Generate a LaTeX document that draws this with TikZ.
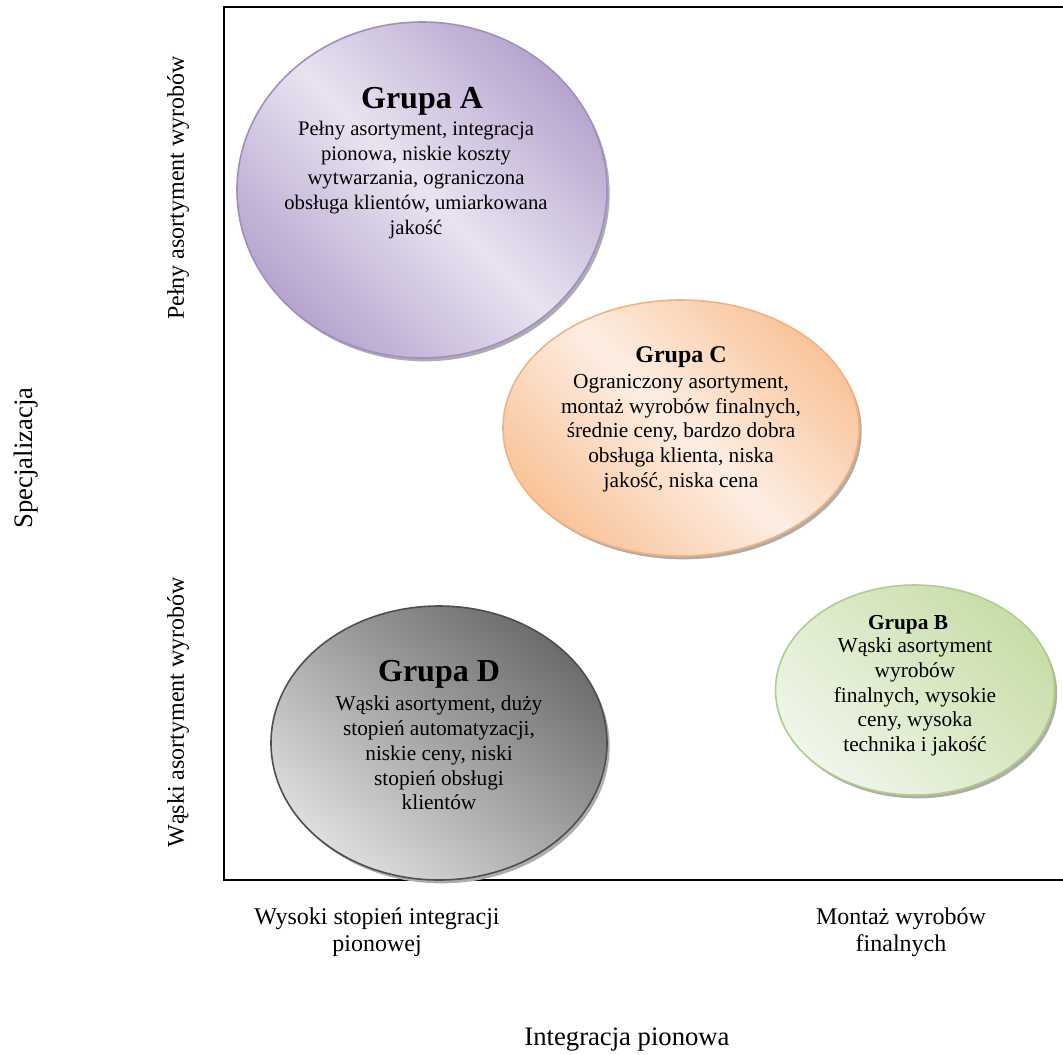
\documentclass[tikz,border=0pt]{standalone}
\usepackage{fontspec}
\setmainfont{Liberation Serif}
\usetikzlibrary{shapes.geometric,positioning,shadows,calc}
\definecolor{lilacdk}{HTML}{B6A4CE}
\definecolor{lilaclt}{HTML}{E9E3F1}
\definecolor{lilacln}{HTML}{A18EC1}
\definecolor{peachdk}{HTML}{F9C49A}
\definecolor{peachlt}{HTML}{FDEEE3}
\definecolor{peachln}{HTML}{F4B37E}
\definecolor{greydk}{HTML}{6C6C6C}
\definecolor{greylt}{HTML}{DEDEDE}
\definecolor{greyln}{HTML}{4E4E4E}
\definecolor{sagedk}{HTML}{C8DDA8}
\definecolor{sagelt}{HTML}{F0F6EA}
\definecolor{sageln}{HTML}{B0CE88}
\tikzset{
  grp/.style args={#1,#2}{
  ellipse,
  inner sep=0pt,
  line width=1.2pt,
  minimum width=#1*0.75pt,
  minimum height=#2*0.75pt,
  drop shadow={shadow xshift=2pt,shadow yshift=-2.5pt,fill=black!32,opacity=1}
  },
  lilacgrp/.style={draw=lilacln,top color=lilacdk,bottom color=lilacdk,middle color=lilaclt,shading angle=-45},
  peachgrp/.style={draw=peachln,top color=peachdk,bottom color=peachdk,middle color=peachlt,shading angle=-45},
  greygrp/.style={draw=greyln,top color=greydk,bottom color=greylt,shading angle=-40},
  sagegrp/.style={draw=sageln,top color=sagedk,bottom color=sagelt,shading angle=-45},
  gtitle/.style={font=\bfseries\fontsize{#1}{#1}\selectfont,inner sep=0pt},
  gbody/.style={align=center,inner sep=0pt,font=\fontsize{#1}{18.6}\selectfont},
  axlab/.style={align=center,inner sep=0pt,font=\fontsize{18}{20}\selectfont},
  axtitle/.style={inner sep=0pt,font=\fontsize{20}{22}\selectfont}
}
\begin{document}
\begin{tikzpicture}[x=0.75pt,y=-0.75pt]
  \useasboundingbox (0,0) rectangle (1063,1054);

  % frame (open on the right)
  \coordinate (ftr) at (1063,7);
  \coordinate (ftl) at (224,7);
  \coordinate (fbl) at (224,880);
  \coordinate (fbr) at (1063,880);
  \draw[line width=1.5pt] (ftr) -- (ftl) -- (fbl) -- (fbr);

  % groups
  \node [grp={370,336},lilacgrp] (ga) at (422,190) {};
  \node [grp={356,256},peachgrp] (gc) at (681,428) {};
  \node [grp={336,274},greygrp] (gd) at (439,743) {};
  \node [grp={279,210},sagegrp] (gb) at (915,690) {};

  \node [gtitle=24] (ta) at (422,101) {Grupa A};
  \node [gbody=15.5] (ba) at (416,180) {Pełny asortyment, integracja\\pionowa, niskie koszty\\wytwarzania, ograniczona\\obsługa klientów, umiarkowana\\jakość};

  \node [gtitle=18] (tc) at (681,357) {Grupa C};
  \node [gbody=16] (bc) at (681,433) {Ograniczony asortyment,\\montaż wyrobów finalnych,\\średnie ceny, bardzo dobra\\obsługa klienta, niska\\jakość, niska cena};

  \node [gtitle=24] (td) at (439,674) {Grupa D};
  \node [gbody=16] (bd) at (439,753) {Wąski asortyment, duży\\stopień automatyzacji,\\niskie ceny, niski\\stopień obsługi\\klientów};

  \node [gtitle=16] (tb) at (908,625) {Grupa B};
  \node [gbody=16] (bb) at (915,697) {Wąski asortyment\\wyrobów\\finalnych, wysokie\\ceny, wysoka\\technika i jakość};

  % axes
  \node [axtitle,rotate=90] (spec) at (26,458) {Specjalizacja};
  \node [axlab,rotate=90] (full) at (178,188) {Pełny asortyment wyrobów};
  \node [axlab,rotate=90] (narrow) at (178,712) {Wąski asortyment wyrobów};

  \node [axlab] (high) at (377,932) {Wysoki stopień integracji\\pionowej};
  \node [axlab] (asm) at (901,932) {Montaż wyrobów\\finalnych};
  \node [axtitle] (integ) at (627,1040) {Integracja pionowa};
\end{tikzpicture}
\end{document}
